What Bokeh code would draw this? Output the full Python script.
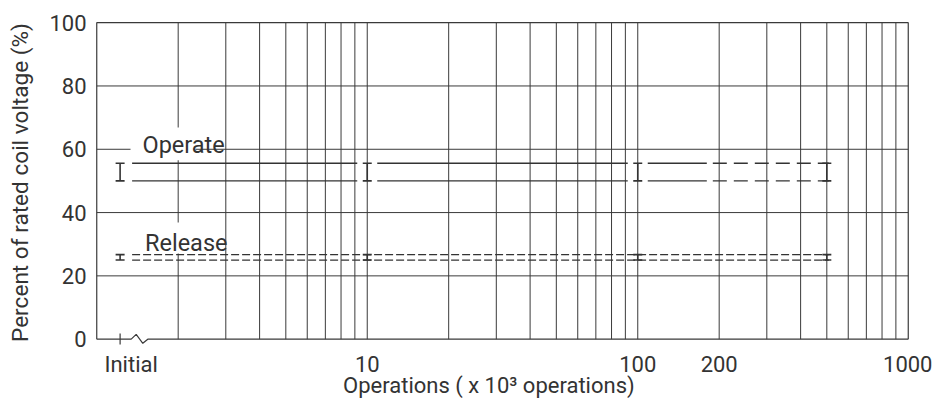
import math
from bokeh.plotting import figure
from bokeh.models import Range1d, FixedTicker, LinearAxis
from bokeh.core.properties import value
from bokeh.embed import file_html
from bokeh.resources import INLINE

# ---------------- data ----------------
INITIAL = 1.22                 # x position of the "Initial" measurement
checkpoints = [INITIAL, 10, 100, 500]          # x 10^3 operations
operate_max = [55.6, 55.6, 55.6, 55.6]         # % of rated coil voltage
operate_min = [50.0, 50.0, 50.0, 50.0]
release_max = [26.7, 26.7, 26.7, 26.7]
release_min = [25.0, 25.0, 25.0, 25.0]
operate_solid_until = 180                      # measured (solid) part ends, then dashed

x_tick_values = [1.34, 10, 100, 200, 1000]
x_tick_labels = ["Initial", "10", "100", "200", "1000"]
y_tick_values = [0, 20, 40, 60, 80, 100]
x_grid = [2, 3, 4, 5, 6, 7, 8, 9, 10, 20, 30, 40, 50, 60, 70, 80, 90, 100,
          200, 300, 400, 500, 600, 700, 800, 900]
y_grid = [20, 40, 60, 80]

series_names = ["Operate", "Release"]
label_x = [1.476, 1.508]
label_y = [61.2, 30.5]
label_box_left = [1.333, 1.333]
label_box_right = [2.318, 2.318]
label_box_bottom = [56.5, 27.1]
label_box_top = [66.9, 36.9]

# axis break (zig-zag) on the x axis
break_x = [1.0, 1.341, 1.399, 1.480, 1.544, 1000]
break_y = [0, 0, 1.5, -1.3, 0, 0]

X_MIN, X_MAX = 1, 1000
Y_MIN, Y_MAX = 0, 100

FONT = "Roboto"
TXT = "#333333"
LINE = "#3a3a3a"

p = figure(x_axis_type="log",
           x_range=Range1d(10 ** -0.012, 10 ** 3.012),
           y_range=Range1d(-2, 101),
           frame_width=818, frame_height=326,
           min_border_left=86, min_border_right=21, min_border_top=19, min_border_bottom=0,
           output_backend="svg", toolbar_location=None)
p.outline_line_color = None
p.xgrid.visible = False
p.ygrid.visible = False
p.background_fill_color = "white"
p.border_fill_color = "white"

# grid lines
p.segment(x0=x_grid, y0=[Y_MIN] * len(x_grid), x1=x_grid, y1=[Y_MAX] * len(x_grid),
          line_color=LINE, line_width=1)
p.segment(x0=[X_MIN] * len(y_grid), y0=y_grid, x1=[X_MAX] * len(y_grid), y1=y_grid,
          line_color=LINE, line_width=1)

# white boxes behind labels
p.quad(left=label_box_left, right=label_box_right, bottom=label_box_bottom, top=label_box_top,
       fill_color="white", line_color=None)

# frame (top, left, right) and broken bottom axis
p.line(x=[X_MIN, X_MIN, X_MAX, X_MAX], y=[Y_MIN, Y_MAX, Y_MAX, Y_MIN],
       line_color=LINE, line_width=1.2)
p.line(x=break_x, y=break_y, line_color=LINE, line_width=1.2)
p.segment(x0=[INITIAL], y0=[-1.7], x1=[INITIAL], y1=[1.8], line_color=LINE, line_width=1.2)

# ---- series lines ----
g = 10 ** (10 / 270.5)        # gap around markers (~10 px)
start = INITIAL * 10 ** (12 / 270.5)
end = checkpoints[-1] * 10 ** (2 / 270.5)
col = "#333333"

for yv in (operate_max[0], operate_min[0]):
    xs0 = [start, checkpoints[1] * g, checkpoints[2] * g]
    xs1 = [checkpoints[1] / g, checkpoints[2] / g, operate_solid_until]
    p.segment(x0=xs0, y0=[yv] * 3, x1=xs1, y1=[yv] * 3, line_color=col, line_width=1.4)
    p.line(x=[operate_solid_until * 10 ** (6 / 270.5), end], y=[yv, yv],
           line_color=col, line_width=1.4, line_dash="14 7")

for yv in (release_max[0], release_min[0]):
    p.line(x=[start, end], y=[yv, yv], line_color=col, line_width=1.3, line_dash="8 3")

# range markers (I-bars)
for lo, hi in ((operate_min, operate_max), (release_min, release_max)):
    p.segment(x0=checkpoints, y0=lo, x1=checkpoints, y1=hi, line_color=col, line_width=1.6)
    p.scatter(x=checkpoints + checkpoints, y=lo + hi, marker="dash", size=9,
              line_color=col, line_width=1.6)

# series labels
p.text(x=label_x, y=label_y, text=series_names, text_font=value(FONT),
       text_font_size=value("23.5px"), text_color=TXT, text_align="left",
       text_baseline="alphabetic")

# ---- axes ----
xa = p.xaxis[0]
xa.ticker = FixedTicker(ticks=x_tick_values)
xa.major_label_overrides = {v: s for v, s in zip(x_tick_values, x_tick_labels)}
xa.axis_line_color = None
xa.major_tick_line_color = None
xa.minor_tick_line_color = None
xa.major_label_text_font = FONT
xa.major_label_text_font_size = "22px"
xa.major_label_text_color = TXT
xa.major_label_standoff = 0
xa.axis_label = "Operations ( x 10\u00b3 operations)" + "\u00a0" * 5
xa.axis_label_text_font = FONT
xa.axis_label_text_font_size = "22px"
xa.axis_label_text_font_style = "normal"
xa.axis_label_text_color = TXT
xa.axis_label_standoff = -7

ya = p.yaxis[0]
ya.ticker = FixedTicker(ticks=y_tick_values)
ya.axis_line_color = None
ya.major_tick_line_color = None
ya.minor_tick_line_color = None
ya.major_label_text_font = FONT
ya.major_label_text_font_size = "22px"
ya.major_label_text_color = TXT
ya.major_label_standoff = 1
ya.axis_label = "Percent of rated coil voltage (%)"
ya.axis_label_text_font = FONT
ya.axis_label_text_font_size = "22.6px"
ya.axis_label_text_font_style = "normal"
ya.axis_label_text_color = TXT
ya.axis_label_standoff = 12

# empty outer spacer axis (adds a few px of left margin)
pad = LinearAxis(ticker=FixedTicker(ticks=[]), axis_line_color=None,
                 major_tick_line_color=None, minor_tick_line_color=None,
                 major_tick_out=0, major_tick_in=0, major_label_text_font_size="0px",
                 major_label_standoff=0, axis_label="\u00a0",
                 axis_label_text_font_size="1px", axis_label_standoff=0)
p.add_layout(pad, "left")

open("out.html", "w").write(file_html(p, INLINE))
